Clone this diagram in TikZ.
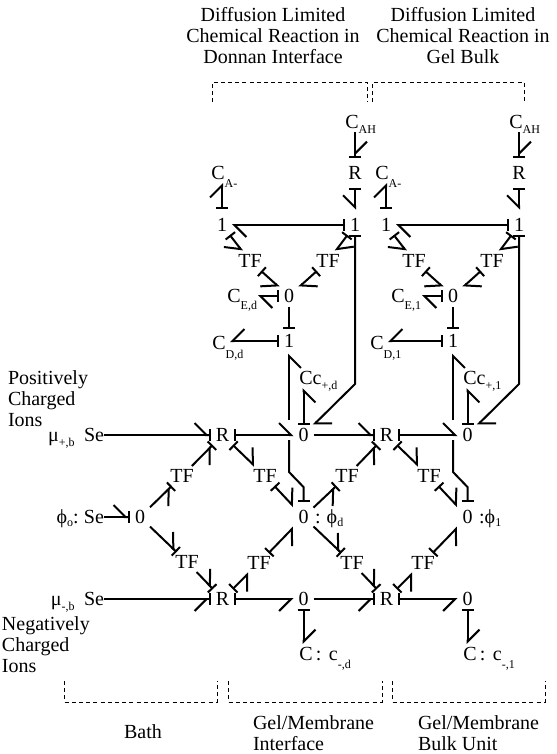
\documentclass[tikz,border=0pt]{standalone}
\usepackage{fontspec}
\setmainfont{Liberation Serif}
\usetikzlibrary{arrows.meta}
\newcommand{\sbs}[2][-4pt]{\smash{\raisebox{#1}{\fontsize{9}{9}\selectfont #2}}}
\tikzset{
  hl/.tip={Straight Barb[left,length=9pt,width=18pt,line width=1.5pt,sep=0pt]},
  hr/.tip={Straight Barb[right,length=9pt,width=18pt,line width=1.5pt,sep=0pt]},
  cs/.tip={Bar[width=9pt,line width=1.5pt,sep=0pt]}
}
\begin{document}
\begin{tikzpicture}[
  x=0.75pt, y=-0.75pt,
  every node/.style={font=\fontsize{15}{15.75}\selectfont, inner sep=0pt, outer sep=0pt},
  elem/.style={minimum width=15pt, minimum height=15pt},
  rnode/.style={minimum width=17.25pt, minimum height=15pt},
  tfnode/.style={minimum width=21pt, minimum height=15pt},
  bond/.style={line width=1.5pt},
  hlc/.style={-{hl[] cs[]}},
  hrc/.style={-{hr[] cs[]}},
  brk/.style={line width=0.7pt, dash pattern=on 3pt off 2.4pt}
]
  \useasboundingbox (0,0) rectangle (557,754);

  % Headings and side labels
  \node[align=center] (headd) at (273,36) {Diffusion Limited\\Chemical Reaction in\\Donnan Interface};
  \node[align=center] (head1) at (463,36) {Diffusion Limited\\Chemical Reaction in\\Gel Bulk};
  \node[align=left, anchor=west] (posions) at (8,399) {Positively\\Charged\\Ions};
  \node[align=left, anchor=west] (negions) at (2,645) {Negatively\\Charged\\Ions};
  \node (bath) at (143,732) {Bath};
  \node[align=left, anchor=west] (gelif) at (253,733) {Gel/Membrane\\Interface};
  \node[align=left, anchor=west] (gelbk) at (418,733) {Gel/Membrane\\Bulk Unit};

  % Dashed brackets
  \foreach \xa/\xb in {212/367, 372/524}
    \draw[brk] (\xa,102) |- (\xb,82) -- (\xb,102);
  \foreach \xa/\xb in {64/217, 228/382, 392/545}
    \draw[brk] (\xa,681) |- (\xb,702) -- (\xb,681);

  % Bath side
  \node[elem] (seU) at (94,435) {\smash{\llap{μ\sbs[-3.5pt]{+,b}\hspace{7pt}}}Se};
  \node[elem] (seM) at (94,517) {\smash{\llap{ϕ\sbs[-2pt]{o}:\hspace{4pt}}}Se};
  \node[elem] (seL) at (94,599) {\smash{\llap{μ\sbs[-4pt]{-,b}\hspace{7pt}}}Se};
  \node[elem] (zeroS) at (140,517) {0};
  \node[tfnode] (tfS) at (182,476) {TF};
  \node[tfnode] (tfT) at (187,562) {TF};
  \node[tfnode] (tfXu) at (347,476) {TF};
  \node[tfnode] (tfXl) at (352,563) {TF};

  % One repeated unit per gel section
  \foreach \u/\dx/\cd in {d/0/219, 1/164/377} {
    \node[elem] (capH\u) at (352+\dx,122) {C\rlap{\sbs{AH}}};
    \node[rnode, minimum height=22.5pt] (rA\u) at (355+\dx,173) {R};
    \node[elem] (capA\u) at (218+\dx,173) {C\rlap{\sbs[-6pt]{A-}}};
    \node[elem] (oneA\u) at (222+\dx,225) {1};
    \node[elem] (oneB\u) at (355+\dx,225) {1};
    \node[tfnode] (tfA\u) at (250+\dx,261) {TF};
    \node[tfnode] (tfB\u) at (328+\dx,261) {TF};
    \node[elem, minimum height=15.75pt] (zeroE\u) at (289+\dx,296) {0};
    \node[elem, minimum width=36pt] (capE\u) at (234+\dx,296) {C\rlap{\sbs[-5pt]{E,\u}}};
    \node[elem, minimum height=18.75pt] (oneD\u) at (289+\dx,341) {1};
    \node[elem, minimum width=16.5pt] (capD\u) at (\cd,343) {C\rlap{\sbs[-6.75pt]{D,\u}}};
    \node[elem] (capC\u) at (306+\dx,378) {C\rlap{c\sbs{+,\u}}};
    \node[rnode] (rU\u) at (222.5+\dx,435) {R};
    \node[elem] (zeroT\u) at (303.5+\dx,435) {0};
    \node[tfnode] (tfU\u) at (265+\dx,476) {TF};
    \node[tfnode] (tfL\u) at (259+\dx,563) {TF};
    \node[rnode] (rL\u) at (222.5+\dx,599) {R};
    \node[elem] (zeroB\u) at (303.5+\dx,599) {0};
    \node[elem] (capG\u) at (306+\dx,654) {C\rlap{\hspace{2.5pt}:\hspace{5.5pt}c\sbs[-6pt]{-,\u}}};

    \coordinate (bendR\u) at (355+\dx,384);
    \coordinate (kinkA\u) at (303.5+\dx,487);
    \coordinate (kinkB\u) at (289+\dx,472);
    \coordinate (gapA\u) at (289+\dx,440);
    \coordinate (gapB\u) at (289+\dx,420);
  }
  \node[elem, minimum height=23.25pt] (zeroMd) at (303.5,517) {0\smash{\rlap{\hspace{5pt}:\hspace{4.5pt}ϕ\sbs[-2.5pt]{d}}}};
  \node[elem, minimum height=23.25pt] (zeroM1) at (467.5,517) {0\smash{\rlap{\hspace{5pt}:ϕ\sbs[-2.5pt]{1}}}};

  % Reaction bonds, gel bonds
  \foreach \u in {d,1} {
    \draw[bond, hlc] (rA\u |- capH\u.south) -- (rA\u.north);
    \draw[bond, cs-hr] (rA\u.south) -- ([yshift=4pt]oneB\u.north);
    \draw[bond, cs-hl] ([yshift=4.5pt]oneA\u.north) -- (oneA\u |- capA\u.south);
    \draw[bond, cs-hl] (oneB\u) -- (oneA\u);
    \draw[bond, cs-hr] (oneA\u) -- (tfA\u);
    \draw[bond, cs-hr] (tfA\u) -- (zeroE\u);
    \draw[bond, cs-hl] (oneB\u) -- (tfB\u);
    \draw[bond, cs-hl] (tfB\u) -- (zeroE\u);
    \draw[bond, cs-hl] (zeroE\u) -- (capE\u);
    \draw[bond, -cs] (zeroE\u) -- (oneD\u);
    \draw[bond, cs-hr] (oneD\u.west) -- (oneD\u.west -| capD\u.east);
    \draw[bond, cs-] (zeroM\u.north) -- (kinkA\u) -- (kinkB\u) -- (gapA\u);
    \draw[bond, -hr] (gapB\u) -- (oneD\u.south);
    \draw[bond, cs-hr] (zeroT\u.north) -- (zeroT\u |- capC\u.south);
    \draw[bond, cs-hl] (oneB\u.south) -- (bendR\u) -- (zeroT\u.north east);
    \draw[bond, cs-hl] (rU\u) -- (zeroT\u);
    \draw[bond, cs-hl] (rU\u) -- (tfU\u);
    \draw[bond, cs-hl] (tfU\u) -- (zeroM\u);
    \draw[bond, cs-hr] (rL\u) -- (tfL\u);
    \draw[bond, cs-hr] (tfL\u) -- (zeroM\u);
    \draw[bond, cs-hr] (rL\u) -- (zeroB\u);
    \draw[bond, cs-hl] (zeroB\u.south) -- (zeroB\u |- capG\u.north);
  }

  % Bonds across the bath and the first interface
  \draw[bond, hlc] (seU) -- (rUd);
  \draw[bond, hlc] (seM) -- (zeroS);
  \draw[bond, hrc] (seL) -- (rLd);
  \draw[bond, hrc] (zeroS) -- (tfS);
  \draw[bond, hlc] (zeroS) -- (tfT);
  \draw[bond, hrc] (tfS) -- (rUd);
  \draw[bond, hlc] (tfT) -- (rLd);
  \draw[bond, hlc] (zeroTd) -- (rU1);
  \draw[bond, hrc] (zeroBd) -- (rL1);
  \draw[bond, hrc] (zeroMd) -- (tfXu);
  \draw[bond, hrc] (tfXu) -- (rU1);
  \draw[bond, hlc] (zeroMd) -- (tfXl);
  \draw[bond, hlc] (tfXl) -- (rL1);
\end{tikzpicture}
\end{document}
